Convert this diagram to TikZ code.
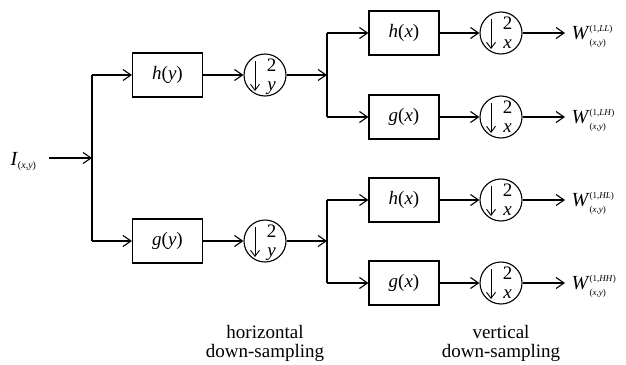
\documentclass[tikz,border=0pt]{standalone}
\usepackage{fontspec}
\setmainfont{Liberation Serif}
\usetikzlibrary{arrows.meta}
\newcommand{\fsz}[1]{\fontsize{#1}{#1}\selectfont}
\newcommand{\dsnode}[4]{%
  \node[ds] (#1) at (#2,#3) {};
  \draw[dsarr] ([xshift=-10pt,yshift=14pt]#1.center) -- ([xshift=-10pt,yshift=-16pt]#1.center);
  \node[dstxt, anchor=base] at ([xshift=6.5pt,yshift=4pt]#1.center) {2};
  \node[dstxt, anchor=base] at ([xshift=6.5pt,yshift=-15pt]#1.center) {\textit{#4}};
}
\begin{document}
\begin{tikzpicture}[x=1pt,y=-1pt,
  line width=1.1pt,
  arr/.style={-{Straight Barb[length=8pt,width=11pt]}},
  box/.style={draw, minimum width=70pt, minimum height=44pt, inner sep=0pt, font=\fsz{19}},
  ds/.style={draw, circle, minimum size=42pt, inner sep=0pt},
  dsarr/.style={line width=0.9pt, -{Straight Barb[length=6pt,width=9pt]}},
  dstxt/.style={inner sep=0pt, font=\fsz{19}},
  lbl/.style={inner sep=0pt, font=\fsz{20}},
  captxt/.style={inner sep=0pt, align=center, font=\fontsize{19}{19}\selectfont}]
\useasboundingbox (0,0) rectangle (626,364);

% input
\node[lbl, anchor=base west] (I) at (10,165) {\textit{I}\raisebox{-3pt}{\fsz{10}(\textit{x},\textit{y})}};
\coordinate (in0) at (49,158);
\coordinate (s1) at (92,158);

% horizontal stage
\node[box] (hy) at (167.5,75) {\textit{h}(\textit{y})};
\node[box] (gy) at (167.5,241) {\textit{g}(\textit{y})};
\dsnode{d1}{265}{75}{y}
\dsnode{d2}{265}{241}{y}
\coordinate (s2) at (327,75);
\coordinate (s3) at (327,241);

% vertical stage
\node[box] (hx1) at (404,33) {\textit{h}(\textit{x})};
\node[box] (gx1) at (404,117) {\textit{g}(\textit{x})};
\node[box] (hx2) at (404,200) {\textit{h}(\textit{x})};
\node[box] (gx2) at (404,283) {\textit{g}(\textit{x})};
\dsnode{d3}{501}{33}{x}
\dsnode{d4}{501}{117}{x}
\dsnode{d5}{501}{200}{x}
\dsnode{d6}{501}{283}{x}

% outputs
\node[lbl, anchor=base west] (w1) at (571,39) {\textit{W}\makebox[0pt][l]{\raisebox{-6pt}{\fsz{9}(\textit{x},\textit{y})}}\raisebox{8pt}{\fsz{9}(1,\textit{LL})}};
\node[lbl, anchor=base west] (w2) at (571,123) {\textit{W}\makebox[0pt][l]{\raisebox{-6pt}{\fsz{9}(\textit{x},\textit{y})}}\raisebox{8pt}{\fsz{9}(1,\textit{LH})}};
\node[lbl, anchor=base west] (w3) at (571,206) {\textit{W}\makebox[0pt][l]{\raisebox{-6pt}{\fsz{9}(\textit{x},\textit{y})}}\raisebox{8pt}{\fsz{9}(1,\textit{HL})}};
\node[lbl, anchor=base west] (w4) at (571,289) {\textit{W}\makebox[0pt][l]{\raisebox{-6pt}{\fsz{9}(\textit{x},\textit{y})}}\raisebox{8pt}{\fsz{9}(1,\textit{HH})}};

% captions
\node[captxt] (c1) at (265,343) {horizontal\\down-sampling};
\node[captxt] (c2) at (501,343) {vertical\\down-sampling};

% connectors
\draw[arr] (in0) -- (s1);
\draw (s1 |- hy) -- (s1 |- gy);
\draw[arr] (s1 |- hy) -- (hy);
\draw[arr] (s1 |- gy) -- (gy);
\draw[arr] (hy) -- (d1);
\draw[arr] (gy) -- (d2);
\draw[arr] (d1) -- (s2);
\draw[arr] (d2) -- (s3);
\draw (s2 |- hx1) -- (s2 |- gx1);
\draw (s3 |- hx2) -- (s3 |- gx2);
\draw[arr] (s2 |- hx1) -- (hx1);
\draw[arr] (s2 |- gx1) -- (gx1);
\draw[arr] (s3 |- hx2) -- (hx2);
\draw[arr] (s3 |- gx2) -- (gx2);
\draw[arr] (hx1) -- (d3);
\draw[arr] (gx1) -- (d4);
\draw[arr] (hx2) -- (d5);
\draw[arr] (gx2) -- (d6);
\draw[arr] (d3) -- ([xshift=-6pt]w1.west |- d3);
\draw[arr] (d4) -- ([xshift=-6pt]w2.west |- d4);
\draw[arr] (d5) -- ([xshift=-6pt]w3.west |- d5);
\draw[arr] (d6) -- ([xshift=-6pt]w4.west |- d6);
\end{tikzpicture}
\end{document}
